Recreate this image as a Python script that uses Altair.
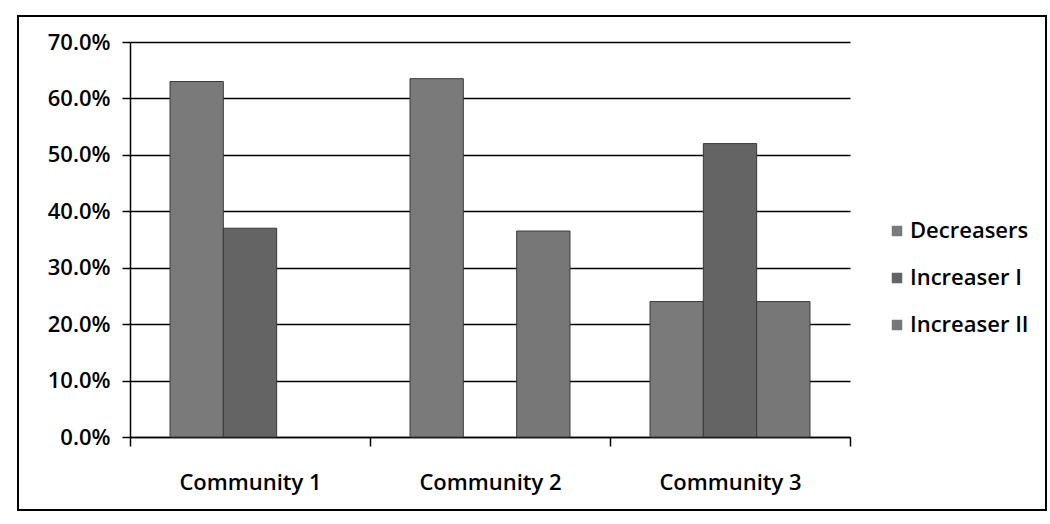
import altair as alt
import pandas as pd

communities = ["Community 1", "Community 2", "Community 3"]
series = ["Decreasers", "Increaser I", "Increaser II"]
decreasers = [0.630, 0.635, 0.240]
increaser_1 = [0.370, 0.0, 0.520]
increaser_2 = [0.0, 0.365, 0.240]
bar_colors = ["#7a7a7a", "#646464", "#777777"]

rows = []
for name, values in zip(series, [decreasers, increaser_1, increaser_2]):
    for community, v in zip(communities, values):
        if v > 0:
            rows.append({"community": community, "group": name, "share": v})
df = pd.DataFrame(rows)

font = "Open Sans"
weight = 600
size = 22

bars = alt.Chart(df).mark_bar(stroke="#3a3a3a", strokeWidth=1).encode(
    x=alt.X(
        "community:N",
        sort=communities,
        title=None,
        scale=alt.Scale(paddingInner=0, paddingOuter=0),
        axis=alt.Axis(
            labelAngle=0,
            tickBand="extent",
            tickSize=9,
            tickWidth=1.5,
            tickColor="black",
            domainColor="black",
            domainWidth=1.5,
            labelPadding=26,
            labelFontSize=size,
            labelFontWeight=weight,
            labelFont=font,
            labelColor="black",
            grid=False,
        ),
    ),
    xOffset=alt.XOffset(
        "group:N",
        sort=series,
        scale=alt.Scale(paddingOuter=0.75, paddingInner=0),
    ),
    y=alt.Y(
        "share:Q",
        title=None,
        scale=alt.Scale(domain=[0, 0.7], nice=False),
        axis=alt.Axis(
            format=".1%",
            values=[0, 0.1, 0.2, 0.3, 0.4, 0.5, 0.6, 0.7],
            tickSize=8,
            tickWidth=1.5,
            tickColor="black",
            domainColor="black",
            domainWidth=1.5,
            gridColor="black",
            gridWidth=1.5,
            labelPadding=12,
            labelFontSize=size,
            labelFontWeight=weight,
            labelFont=font,
            labelColor="black",
        ),
    ),
    color=alt.Color(
        "group:N",
        sort=series,
        scale=alt.Scale(domain=series, range=bar_colors),
        legend=alt.Legend(
            title=None,
            orient="none",
            legendX=756,
            legendY=178,
            symbolType="square",
            symbolSize=110,
            symbolStrokeWidth=0,
            labelFontSize=size,
            labelFontWeight=weight,
            labelFont=font,
            labelColor="black",
            rowPadding=25,
            labelOffset=2,
        ),
    ),
)

frame = alt.Chart(alt.Data(values=[{}])).mark_rect(
    fill=None, stroke="black", strokeWidth=2
).encode(
    x=alt.value(-112),
    x2=alt.value(916),
    y=alt.value(-26),
    y2=alt.value(468),
)

chart = (
    alt.layer(bars, frame)
    .properties(
        width=720,
        height=395,
        autosize=alt.AutoSizeParams(type="none"),
        padding={"left": 130, "top": 42, "right": 200, "bottom": 87},
        background="white",
    )
    .configure_view(stroke=None)
)

chart.save("out.html", embed_options={"renderer": "svg", "actions": False})
